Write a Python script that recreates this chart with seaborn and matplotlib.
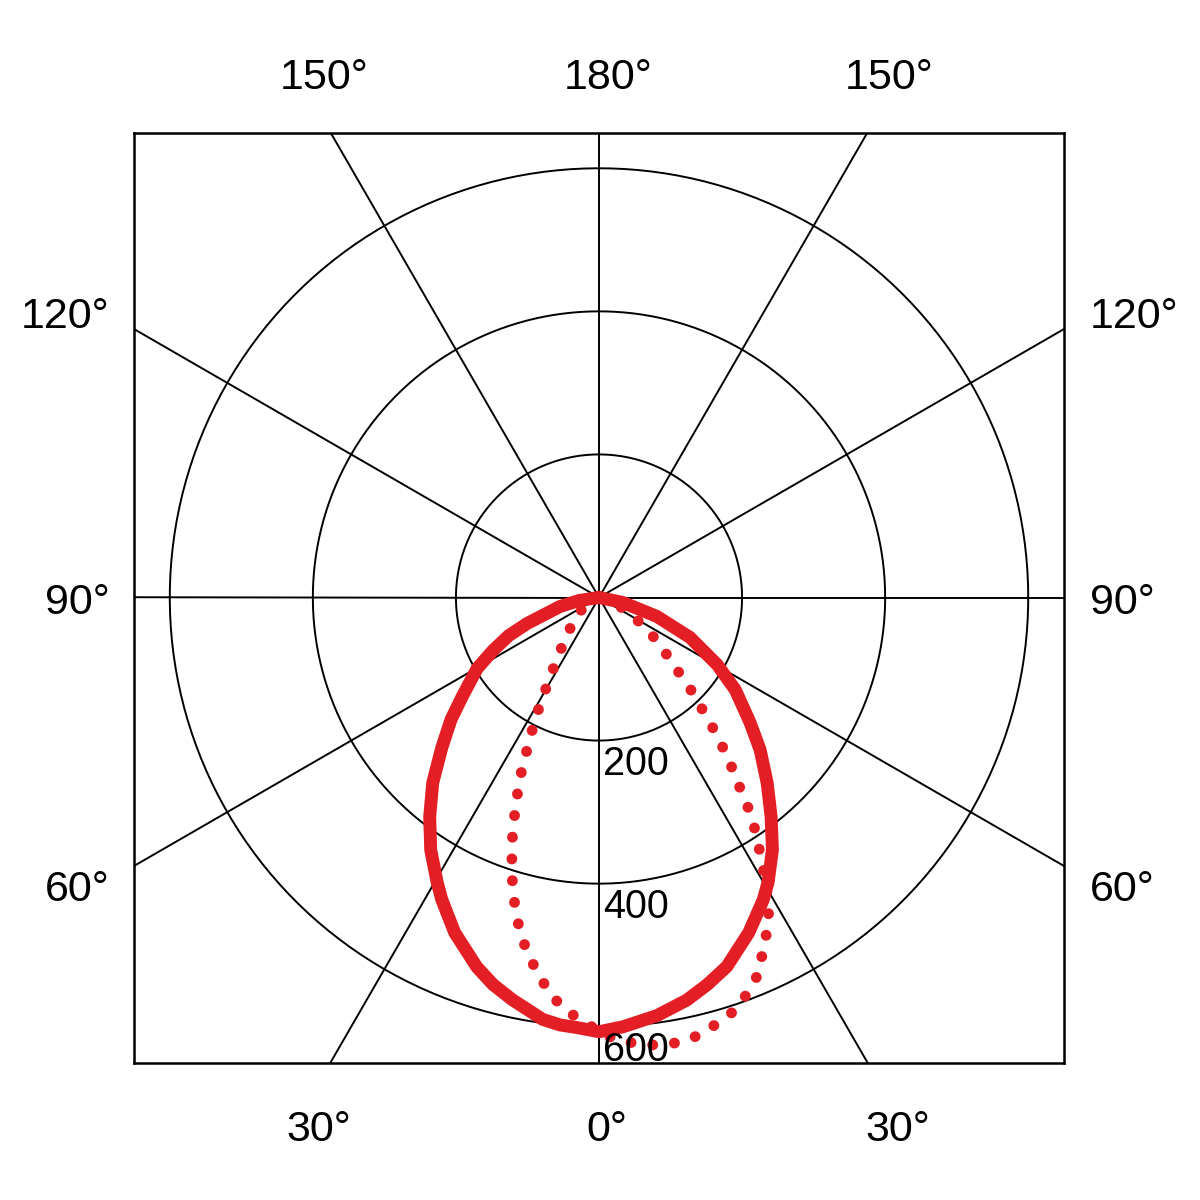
import numpy as np
import pandas as pd
import seaborn as sns
import matplotlib.pyplot as plt

# intensity curves: gamma angle (deg from nadir) and value
solid_left_gamma = [0, 2.9, 5.2, 7.6, 12.2, 15.3, 18.3, 23.3, 27.5, 29.6, 33.7, 37.7, 41.9,
                    46.3, 50.5, 54.1, 59.8, 63.4, 67.1, 70.1, 77.0, 81.5, 90]
solid_left = [607, 602, 600, 595, 575, 561, 544, 510, 476, 458, 424, 387, 348,
              304, 268, 236, 197, 166, 137, 107, 56, 28, 0]
solid_right_gamma = [0, 3.2, 7.9, 12.3, 15.6, 19.1, 24.1, 28.5, 30.7, 34.5, 38.1, 42.2,
                     46.6, 50.4, 55.9, 60.4, 66.3, 71.9, 78.2, 90]
solid_right = [607, 601, 590, 576, 562, 546, 513, 481, 463, 428, 390, 350,
               310, 274, 230, 190, 139, 85, 34, 0]

dotted_left_gamma = [0, 1.3, 3.9, 6.4, 8.5, 10.6, 12.7, 14.4, 16.1, 17.6, 19.0, 20.6, 21.8,
                     23.4, 24.6, 26.1, 27.9, 29.5, 31.9, 35.5, 41.5, 54.5, 90]
dotted_left = [610, 597, 583, 564, 541, 516, 489, 462, 432, 403, 374, 342, 312,
               282, 252, 220, 188, 159, 127, 96, 65, 36, 0]
dotted_right_gamma = [0, 4.2, 6.9, 9.9, 12.7, 15.5, 18.1, 20.7, 23.1, 24.9, 27.1, 28.8, 30.2,
                      31.7, 33.2, 34.9, 36.0, 37.5, 39.1, 40.7, 42.2, 44.4, 46.4, 49.5,
                      53.8, 58.6, 66, 90]
dotted_right = [610, 624, 630, 632, 628, 618, 608, 590, 570, 544, 518, 493, 463,
                434, 403, 374, 342, 312, 281, 251, 221, 190, 158, 127,
                97, 67, 38, 0]

ring_values = [200, 400, 600]
spoke_angles = list(range(0, 360, 30))
top_labels = ['150°', '180°', '150°']
bottom_labels = ['30°', '0°', '30°']
side_labels = ['120°', '90°', '60°']

RED = '#e31e24'
LIM = 650


def to_xy(gamma_l, r_l, gamma_r, r_r):
    # left half goes from 90 down to 0, right half from 0 up to 90
    gl = np.radians(np.array(gamma_l[::-1], dtype=float))
    rl = np.array(r_l[::-1], dtype=float)
    gr = np.radians(np.array(gamma_r, dtype=float))
    rr = np.array(r_r, dtype=float)
    x = np.concatenate([-rl * np.sin(gl), rr * np.sin(gr)])
    y = np.concatenate([-rl * np.cos(gl), -rr * np.cos(gr)])
    return pd.DataFrame({'x': x, 'y': y})


sns.set_theme(style='white')
plt.rcParams['font.family'] = ['Liberation Sans', 'DejaVu Sans']
plt.rcParams['text.color'] = 'black'

fig = plt.figure(figsize=(12, 12), dpi=100)
ax = fig.add_axes([134 / 1200, 137 / 1200, 930 / 1200, 931 / 1200])
ax.set_xlim(-LIM, LIM)
ax.set_ylim(-LIM, LIM)

# grid: rings and spokes
t = np.linspace(0, 2 * np.pi, 400)
for rv in ring_values:
    ax.plot(rv * np.cos(t), rv * np.sin(t), color='black', lw=1.4, zorder=1)
for a in spoke_angles:
    ar = np.radians(a)
    ax.plot([0, 1000 * np.sin(ar)], [0, -1000 * np.cos(ar)], color='black', lw=1.4, zorder=1)

solid_df = to_xy(solid_left_gamma, solid_left, solid_right_gamma, solid_right)
dotted_df = to_xy(dotted_left_gamma, dotted_left, dotted_right_gamma, dotted_right)

sns.lineplot(data=dotted_df, x='x', y='y', sort=False, estimator=None, ax=ax,
             color=RED, lw=7.8, linestyle=(0, (0.01, 2.0)), dash_capstyle='round', zorder=3)
sns.lineplot(data=solid_df, x='x', y='y', sort=False, estimator=None, ax=ax,
             color=RED, lw=9.3, solid_capstyle='round', solid_joinstyle='round', zorder=4)

for rv in ring_values:
    ax.text(5.5, -(rv + 47.5), str(rv), fontsize=28.5, ha='left', va='baseline',
            color='black', zorder=5)

ax.set_aspect('equal')
ax.set_xticks([])
ax.set_yticks([])
ax.set_xlabel('')
ax.set_ylabel('')
for sp in ax.spines.values():
    sp.set_visible(True)
    sp.set_color('black')
    sp.set_linewidth(1.8)

fs = 31
for lab, xp in zip(top_labels, [324, 608, 889]):
    fig.text(xp / 1200, 1 - 89 / 1200, lab, fontsize=fs, ha='center', va='baseline', color='black')
for lab, xp in zip(bottom_labels, [319, 607, 898]):
    fig.text(xp / 1200, 1 - 1141 / 1200, lab, fontsize=fs, ha='center', va='baseline', color='black')
for lab, yp in zip(side_labels, [328, 614, 901]):
    fig.text(110 / 1200, 1 - yp / 1200, lab, fontsize=fs, ha='right', va='baseline', color='black')
    fig.text(1090 / 1200, 1 - yp / 1200, lab, fontsize=fs, ha='left', va='baseline', color='black')

fig.savefig('out.png', dpi=100)
